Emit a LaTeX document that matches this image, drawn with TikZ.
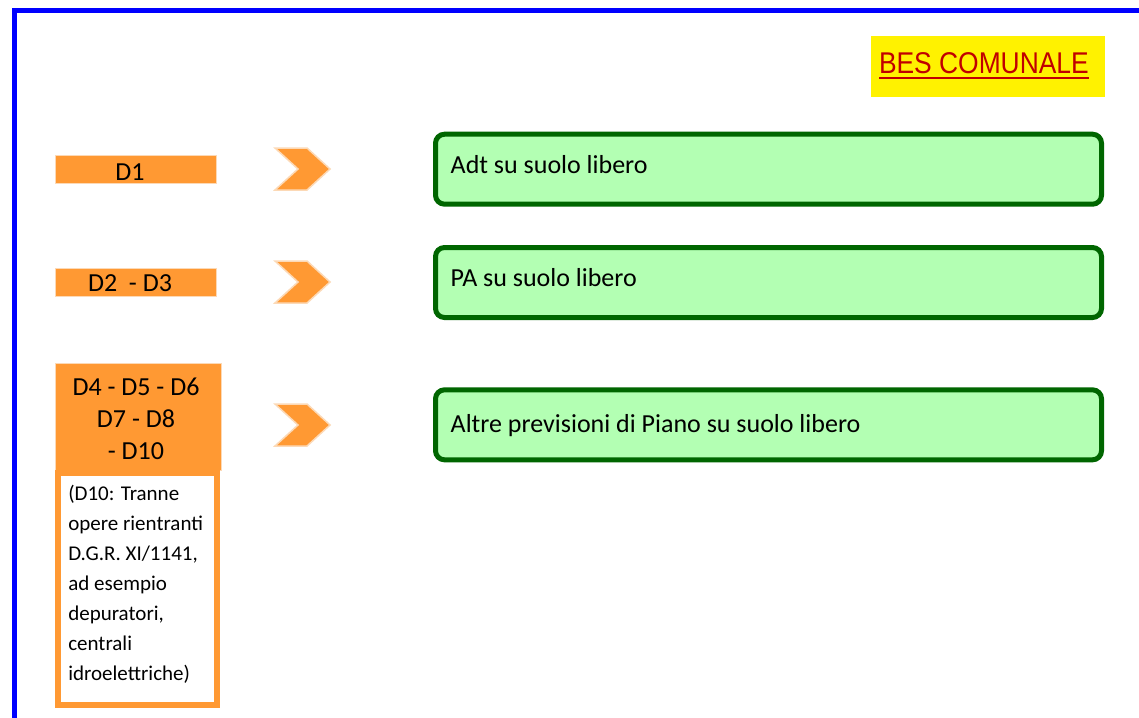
\documentclass[tikz,border=0pt]{standalone}
\usepackage{graphicx}
\usepackage{fontspec}
\setmainfont{Carlito}
\newfontfamily\arialfont{Liberation Sans}
\definecolor{orangefill}{HTML}{FF9933}
\definecolor{orangeedge}{HTML}{FCD9B6}
\definecolor{greenfill}{HTML}{B3FFB3}
\definecolor{greenedge}{HTML}{006600}
\definecolor{besred}{HTML}{C00000}
\definecolor{frameblue}{HTML}{0000FF}
\begin{document}
\begin{tikzpicture}[x=1pt,y=-1pt, every node/.style={outer sep=0},
  big/.style={font=\fontsize{26}{32}\selectfont, inner sep=0},
  small/.style={font=\fontsize{21}{30}\selectfont, inner sep=0, anchor=base west},
  greenbox/.style={draw=greenedge, fill=greenfill, line width=5, rounded corners=9,
    minimum width=666, minimum height=70, anchor=north west, inner sep=0},
  orangebar/.style={fill=orangefill, draw=orangeedge, line width=1, anchor=north west, inner sep=0},
  chev/.style={fill=orangefill, draw=orangeedge, line width=1.5, line join=miter}]
\clip (0,0) rectangle (1139,717);
\fill[white] (0,0) rectangle (1139,717);
% blue frame
\draw[frameblue, line width=5] (14.2,730) -- (14.2,10.5) -- (1150,10.5);
% title
\node[fill=yellow, minimum width=234, minimum height=61, anchor=north west, inner sep=0] (besbox) at (871,35.7) {};
\node[anchor=base west, inner sep=0, text=besred, font=\arialfont\fontsize{30}{36}\selectfont] (bes) at (879,73.3) {\scalebox{0.88}[1]{BES COMUNALE}};
\draw[besred, line width=2] ([yshift=-5pt]bes.base west) -- ([yshift=-5pt]bes.base east);
% left labels
\node[orangebar, minimum width=161, minimum height=28] (d1) at (55.5,155.5) {};
\node[big, anchor=base] (d1t) at (130,180) {D1};
\node[orangebar, minimum width=161, minimum height=28] (d2) at (55.5,268.5) {};
\node[big, anchor=base] (d2t) at (130,291.7) {D2\ \ - D3};
\node[orangebar, minimum width=166, minimum height=107] (d4) at (55.5,363.5) {};
\node[draw=orangefill, fill=white, line width=6, minimum width=159, minimum height=232, anchor=north west, inner sep=0] (d4note) at (58,473) {};
\node[big, anchor=base] (d4a) at (136,395) {D4 - D5 - D6};
\node[big, anchor=base] (d4b) at (136,427) {D7 - D8};
\node[big, anchor=base] (d4c) at (136,459) {- D10};
\foreach \t [count=\i] in {{(D10: Tranne}, {opere rientranti}, {D.G.R. XI/1141,}, {ad esempio}, {depuratori,}, {centrali}, {idroelettriche)}}
  \node[small] (note\i) at (68.3,470.7+30*\i) {\t};
% chevrons
\foreach \cy in {169,282,425}
  \draw[chev] (275,\cy-21) -- (307,\cy-21) -- (330,\cy) -- (307,\cy+21) -- (275,\cy+21) -- (298,\cy) -- cycle;
% green boxes
\node[greenbox] (g1) at (435.5,134.2) {};
\node[big, anchor=base west] (g1t) at (450.7,173.3) {Adt su suolo libero};
\node[greenbox] (g2) at (435.5,247.5) {};
\node[big, anchor=base west] (g2t) at (450.7,286.7) {PA su suolo libero};
\node[greenbox] (g3) at (435.5,389.8) {};
\node[big, anchor=base west] (g3t) at (450.7,432.3) {Altre previsioni di Piano su suolo libero};
\end{tikzpicture}
\end{document}
